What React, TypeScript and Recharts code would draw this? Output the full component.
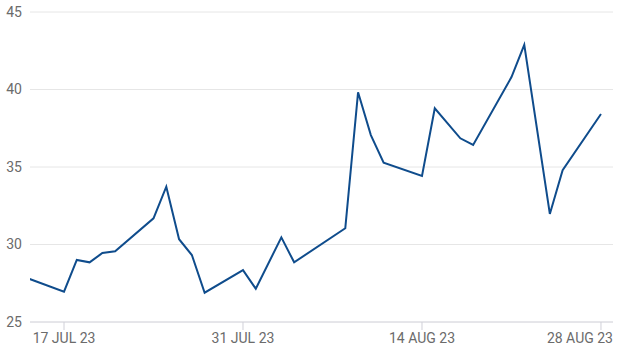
import { CartesianGrid, Line, LineChart, XAxis, YAxis } from "recharts";

// trading days (missing days are simply not in the data)
const dates = [
  "2023-07-14", "2023-07-17", "2023-07-18", "2023-07-19", "2023-07-20", "2023-07-21",
  "2023-07-24", "2023-07-25", "2023-07-26", "2023-07-27", "2023-07-28",
  "2023-07-31", "2023-08-01", "2023-08-03", "2023-08-04",
  "2023-08-08", "2023-08-09", "2023-08-10", "2023-08-11",
  "2023-08-14", "2023-08-15", "2023-08-17", "2023-08-18",
  "2023-08-21", "2023-08-22", "2023-08-24", "2023-08-25",
  "2023-08-28",
];

const values = [
  27.87, 26.96, 29.0, 28.85, 29.45, 29.56,
  31.69, 33.73, 30.34, 29.32, 26.89,
  28.35, 27.15, 30.46, 28.85,
  31.05, 39.82, 37.06, 35.28,
  34.42, 38.79, 36.85, 36.42,
  40.8, 42.88, 31.97, 34.8,
  38.42,
];

const xTickDates = ["2023-07-17", "2023-07-31", "2023-08-14", "2023-08-28"];
const xTickLabels = ["17 JUL 23", "31 JUL 23", "14 AUG 23", "28 AUG 23"];
const yTicks = [25, 30, 35, 40, 45];

const DAY = 86400000;
const toTs = (d: string) => Date.parse(d + "T00:00:00Z");

const data = dates.map((d, i) => ({ t: toTs(d), value: values[i] }));
const xTicks = xTickDates.map(toTs);
const xDomain = [toTs("2023-07-14") + 0.34 * DAY, toTs("2023-08-28") + 0.94 * DAY];

const FONT = "Roboto, 'Liberation Sans', sans-serif";

function DateTick(props: any) {
  const { x, y, payload, index, visibleTicksCount } = props;
  const last = index === visibleTicksCount - 1;
  const label = xTickLabels[xTicks.indexOf(payload.value)];
  return (
    <text
      x={last ? x + 12 : x}
      y={y}
      dy="0.71em"
      textAnchor={last ? "end" : "middle"}
      fill="#6b6b6b"
      fontSize={14}
      fontFamily={FONT}
    >
      {label}
    </text>
  );
}

export default function App() {
  return (
    <div style={{ position: "absolute", left: 0, top: 0, width: 627, height: 359, background: "#fff" }}>
      <LineChart width={627} height={359} data={data} margin={{ top: 12, right: 14, bottom: 0, left: 0 }}>
        <CartesianGrid vertical={false} stroke="#e6e6e6" />
        <XAxis
          dataKey="t"
          type="number"
          scale="time"
          domain={xDomain}
          allowDataOverflow
          ticks={xTicks}
          interval={0}
          height={37}
          tickSize={8}
          tickMargin={3}
          axisLine={{ stroke: "#d8d8e0" }}
          tickLine={{ stroke: "#d0d0d8" }}
          tick={<DateTick />}
        />
        <YAxis
          domain={[25, 45]}
          ticks={yTicks}
          width={30}
          axisLine={false}
          tickLine={false}
          tick={{ fill: "#6b6b6b", fontSize: 14, fontFamily: FONT }}
        />
        <Line
          type="linear"
          dataKey="value"
          stroke="#0f4c8c"
          strokeWidth={2}
          dot={false}
          isAnimationActive={false}
        />
      </LineChart>
    </div>
  );
}
